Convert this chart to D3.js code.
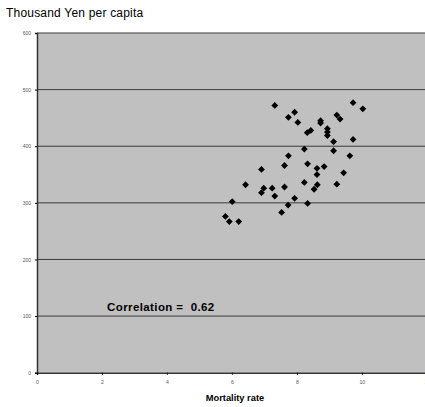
<!DOCTYPE html>
<html><head><meta charset="utf-8">
<script src="https://cdn.jsdelivr.net/npm/d3@7"></script>
<style>body{margin:0;background:#fff;}svg{display:block;}</style>
</head><body>
<svg id="c" width="425" height="407"></svg>
<script>
const xVals = [7.32,9.73,10.03,7.74,7.93,8.03,8.73,8.73,9.23,9.33,8.32,8.43,8.94,8.94,8.94,9.13,9.73,8.23,9.13,7.74,9.63,7.62,8.33,8.62,8.84,8.62,9.44,8.23,9.23,7.62,7.24,8.63,8.53,6.91,6.42,6.98,6.91,7.32,6.01,5.80,5.92,6.21,7.93,7.73,7.53,8.33];
const yVals = [472,477,466,451,460,442,445,441,455,448,424,428,431,425,419,408,412,395,392,383,383,366,369,361,364,350,353,336,333,328,326,332,324,359,332,326,318,312,302,276,267,267,308,296,283,299];
const xTicks = [0,2,4,6,8,10,12];
const yTicks = [0,100,200,300,400,500,600];
const title = "Thousand Yen per capita";
const xTitle = "Mortality rate";
const note = "Correlation =  0.62";

const svg = d3.select("#c");
const L = 37, R = 426.8, T = 33, B = 372.7;
const x = d3.scaleLinear().domain([0,12]).range([L, R]);
const y = d3.scaleLinear().domain([0,600]).range([B, T]);

svg.append("rect").attr("x", L).attr("y", T).attr("width", R - L).attr("height", B - T).attr("fill", "#c0c0c0");

svg.append("g").selectAll("line").data(yTicks.filter(d => d > 0)).join("line")
  .attr("x1", L).attr("x2", R).attr("y1", d => y(d)).attr("y2", d => y(d))
  .attr("stroke", "#3a3a3a").attr("stroke-width", 1);

const gy = svg.append("g").attr("transform", `translate(${L},0)`)
  .call(d3.axisLeft(y).tickValues(yTicks).tickSize(2).tickPadding(4).tickFormat(d3.format("d")));
gy.select(".domain").attr("stroke", "#333").attr("stroke-width", 1.5);
gy.selectAll("text").attr("font-family", "Liberation Sans, Arial, sans-serif").attr("font-size", 5).attr("fill", "#555");

const gx = svg.append("g").attr("transform", `translate(0,${B})`)
  .call(d3.axisBottom(x).tickValues(xTicks).tickSize(2).tickPadding(6).tickFormat(d3.format("d")));
gx.select(".domain").attr("stroke", "#333").attr("stroke-width", 1.5);
gx.selectAll("text").attr("font-family", "Liberation Sans, Arial, sans-serif").attr("font-size", 5).attr("fill", "#555");

const r = 3.4;
svg.append("g").selectAll("path").data(xVals.map((v,i)=>[v,yVals[i]])).join("path")
  .attr("transform", d => `translate(${x(d[0])},${y(d[1])})`)
  .attr("d", `M0,${-r}L${r},0L0,${r}L${-r},0Z`)
  .attr("fill", "#000");

svg.append("text").attr("x", 6).attr("y", 17).text(title)
  .attr("font-family", "Liberation Sans, Arial, sans-serif").attr("font-size", 12).attr("fill", "#000")
  .attr("letter-spacing", 0.2);

svg.append("text").attr("x", 235).attr("y", 401).attr("text-anchor", "middle").text(xTitle)
  .attr("font-family", "Liberation Sans, Arial, sans-serif").attr("font-size", 9.3).attr("font-weight", "bold").attr("fill", "#000");

svg.append("text").attr("x", 107).attr("y", 311).text(note)
  .style("white-space","pre")
  .attr("font-family", "Liberation Sans, Arial, sans-serif").attr("font-size", 11.5).attr("font-weight", "bold").attr("fill", "#000")
  .attr("letter-spacing", 0.4);
</script>
</body></html>
